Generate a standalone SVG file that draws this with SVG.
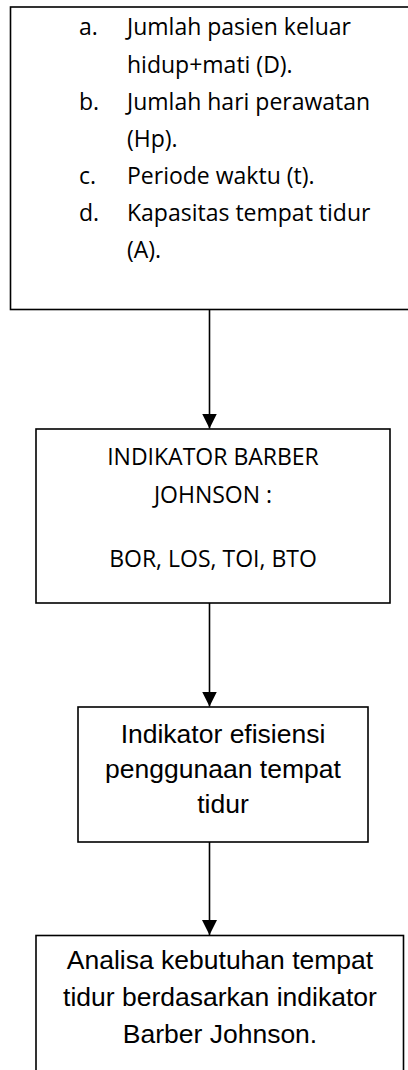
<svg xmlns="http://www.w3.org/2000/svg" width="408" height="1070" viewBox="0 0 408 1070">
<style>
.box{fill:#fff;stroke:#000;stroke-width:1.6}
.cal{font-family:"Open Sans","Noto Sans",sans-serif;font-size:23px;fill:#000}
.ari{font-family:"Liberation Sans",Arial,sans-serif;font-size:26.5px;fill:#000}
.mid{text-anchor:middle}
.conn{stroke:#000;stroke-width:1.6;fill:none}
</style>
<defs>
<marker id="arr" markerWidth="15" markerHeight="15" refX="15" refY="7.5" orient="auto" markerUnits="userSpaceOnUse">
<path d="M0,0 L15,7.5 L0,15 Z" fill="#000"/>
</marker>
</defs>
<rect width="408" height="1070" fill="#fff"/>
<g id="node-input">
<rect class="box" x="10.5" y="7" width="410" height="302.5"/>
<text class="cal" x="79" y="35">a.</text><text class="cal" x="127" y="35">Jumlah pasien keluar</text>
<text class="cal" x="127" y="72.5">hidup+mati (D).</text>
<text class="cal" x="79" y="110">b.</text><text class="cal" x="127" y="110">Jumlah hari perawatan</text>
<text class="cal" x="127" y="147">(Hp).</text>
<text class="cal" x="79" y="184">c.</text><text class="cal" x="127" y="184">Periode waktu (t).</text>
<text class="cal" x="79" y="221">d.</text><text class="cal" x="127" y="221">Kapasitas tempat tidur</text>
<text class="cal" x="127" y="258">(A).</text>
</g>
<g id="node-barber">
<rect class="box" x="36" y="429" width="354" height="174"/>
<text class="cal mid" x="213" y="465">INDIKATOR BARBER</text>
<text class="cal mid" x="213" y="503">JOHNSON :</text>
<text class="cal mid" x="213" y="567">BOR, LOS, TOI, BTO</text>
</g>
<g id="node-efisiensi">
<rect class="box" x="78" y="707" width="290" height="135"/>
<text class="ari mid" x="223" y="743">Indikator efisiensi</text>
<text class="ari mid" x="223" y="778">penggunaan tempat</text>
<text class="ari mid" x="223" y="813">tidur</text>
</g>
<g id="node-analisa">
<rect class="box" x="36" y="935.5" width="367.5" height="150"/>
<text class="ari mid" x="220" y="969">Analisa kebutuhan tempat</text>
<text class="ari mid" x="220" y="1006">tidur berdasarkan indikator</text>
<text class="ari mid" x="220" y="1043">Barber Johnson.</text>
</g>
<g id="connectors">
<line class="conn" x1="209.5" y1="310" x2="209.5" y2="428.5" marker-end="url(#arr)"/>
<line class="conn" x1="209.5" y1="603" x2="209.5" y2="706.5" marker-end="url(#arr)"/>
<line class="conn" x1="209.5" y1="842" x2="209.5" y2="935" marker-end="url(#arr)"/>
</g>
</svg>
